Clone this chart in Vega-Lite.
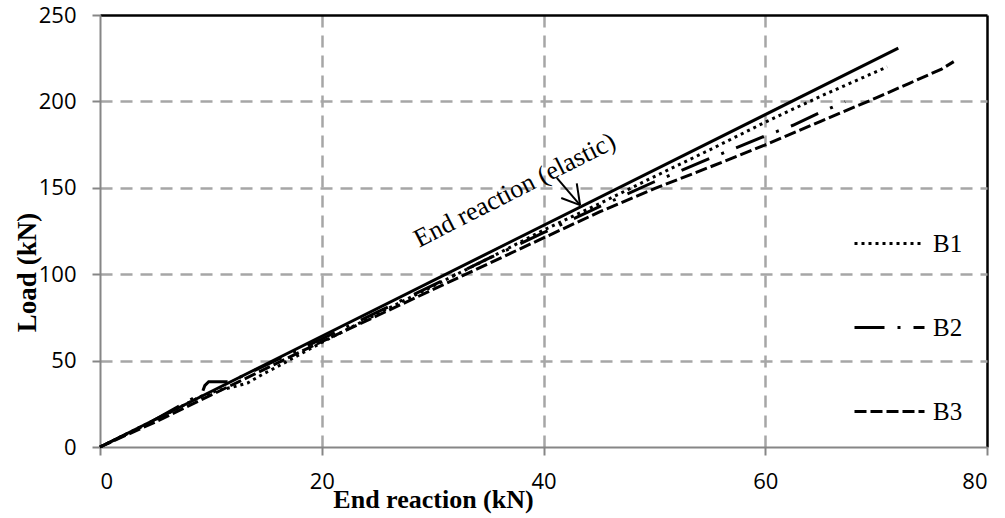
{
  "$schema": "https://vega.github.io/schema/vega-lite/v6.json",
  "width": 887,
  "height": 432,
  "autosize": {"type": "none"},
  "padding": {"left": 100, "top": 15, "right": 18, "bottom": 71},
  "background": "white",
  "config": {
    "view": {"stroke": null},
    "axis": {
      "labelFont": "Open Sans",
      "labelFontSize": 22,
      "labelColor": "black",
      "titleFont": "Liberation Serif",
      "titleFontWeight": "bold",
      "titleColor": "black",
      "domainColor": "#868686",
      "domainWidth": 2,
      "tickColor": "#868686",
      "tickWidth": 2,
      "tickSize": 8,
      "gridWidth": 2.5
    }
  },
  "datasets": {
    "elastic": [
      {"reaction": 0, "load": 0},
      {"reaction": 72, "load": 230.8}
    ],
    "tests": [
      {"series": "B1", "reaction": 0, "load": 0},
      {"series": "B1", "reaction": 3, "load": 9.5},
      {"series": "B1", "reaction": 6, "load": 19},
      {"series": "B1", "reaction": 9, "load": 29},
      {"series": "B1", "reaction": 10.5, "load": 32.5},
      {"series": "B1", "reaction": 12, "load": 34.7},
      {"series": "B1", "reaction": 13.3, "load": 37},
      {"series": "B1", "reaction": 14.7, "load": 42.2},
      {"series": "B1", "reaction": 16, "load": 46.5},
      {"series": "B1", "reaction": 18, "load": 53.5},
      {"series": "B1", "reaction": 20, "load": 60.5},
      {"series": "B1", "reaction": 25, "load": 77},
      {"series": "B1", "reaction": 30, "load": 93},
      {"series": "B1", "reaction": 35, "load": 109},
      {"series": "B1", "reaction": 40, "load": 125.5},
      {"series": "B1", "reaction": 45.1, "load": 141},
      {"series": "B1", "reaction": 50, "load": 156.5},
      {"series": "B1", "reaction": 55, "load": 172},
      {"series": "B1", "reaction": 60, "load": 188},
      {"series": "B1", "reaction": 65, "load": 203},
      {"series": "B1", "reaction": 71, "load": 220},
      {"series": "B2", "reaction": 0, "load": 0},
      {"series": "B2", "reaction": 4, "load": 12.5},
      {"series": "B2", "reaction": 9.2, "load": 31},
      {"series": "B2", "reaction": 9.45, "load": 35.5},
      {"series": "B2", "reaction": 9.8, "load": 37.8},
      {"series": "B2", "reaction": 11.7, "load": 37.8},
      {"series": "B2", "reaction": 13, "load": 41.5},
      {"series": "B2", "reaction": 16, "load": 50.5},
      {"series": "B2", "reaction": 20, "load": 62.5},
      {"series": "B2", "reaction": 25, "load": 78},
      {"series": "B2", "reaction": 30, "load": 93.5},
      {"series": "B2", "reaction": 35, "load": 109},
      {"series": "B2", "reaction": 40, "load": 124},
      {"series": "B2", "reaction": 45, "load": 139},
      {"series": "B2", "reaction": 50, "load": 153.5},
      {"series": "B2", "reaction": 55, "load": 167},
      {"series": "B2", "reaction": 60, "load": 180},
      {"series": "B2", "reaction": 62.5, "load": 186.2},
      {"series": "B2", "reaction": 65.1, "load": 194},
      {"series": "B2", "reaction": 67.2, "load": 199.8},
      {"series": "B3", "reaction": 0, "load": 0},
      {"series": "B3", "reaction": 5, "load": 14.5},
      {"series": "B3", "reaction": 10, "load": 30},
      {"series": "B3", "reaction": 15, "load": 45.5},
      {"series": "B3", "reaction": 20, "load": 61},
      {"series": "B3", "reaction": 25, "load": 76},
      {"series": "B3", "reaction": 30, "load": 91},
      {"series": "B3", "reaction": 35, "load": 106},
      {"series": "B3", "reaction": 40, "load": 121},
      {"series": "B3", "reaction": 45.1, "load": 136.2},
      {"series": "B3", "reaction": 50, "load": 149.5},
      {"series": "B3", "reaction": 55, "load": 162},
      {"series": "B3", "reaction": 60, "load": 174.8},
      {"series": "B3", "reaction": 65, "load": 188.5},
      {"series": "B3", "reaction": 70, "load": 202},
      {"series": "B3", "reaction": 73, "load": 210.5},
      {"series": "B3", "reaction": 75.9, "load": 218.7},
      {"series": "B3", "reaction": 77, "load": 223}
    ],
    "arrow": [
      {"seg": "shaft", "ord": 0, "reaction": 41.2, "load": 155.7},
      {"seg": "shaft", "ord": 1, "reaction": 43.3, "load": 140},
      {"seg": "left", "ord": 0, "reaction": 41.6, "load": 144.1},
      {"seg": "left", "ord": 1, "reaction": 43.3, "load": 140},
      {"seg": "right", "ord": 0, "reaction": 43.0, "load": 152.6},
      {"seg": "right", "ord": 1, "reaction": 43.3, "load": 140}
    ],
    "note": [
      {"reaction": 37.4, "load": 148.7, "label": "End reaction (elastic)"}
    ]
  },
  "encoding": {
    "x": {
      "field": "reaction",
      "type": "quantitative",
      "scale": {"domain": [0, 80], "nice": false},
      "axis": {
        "values": [0, 20, 40, 60, 80],
        "title": "End reaction (kN)",
        "titleFontSize": 26,
        "titleX": 333,
        "titleY": 60,
        "titleBaseline": "alphabetic",
        "titleAlign": "center",
        "labelPadding": 16,
        "gridColor": {"condition": {"test": "datum.value === 80", "value": "black"}, "value": "#A6A6A6"},
        "gridDash": {"condition": {"test": "datum.value === 80", "value": []}, "value": [12, 8]},
        "gridOpacity": {"condition": {"test": "datum.value === 0", "value": 0}, "value": 1}
      }
    },
    "y": {
      "field": "load",
      "type": "quantitative",
      "scale": {"domain": [0, 250], "nice": false},
      "axis": {
        "values": [0, 50, 100, 150, 200, 250],
        "title": "Load (kN)",
        "titleFontSize": 27,
        "titleX": -65,
        "titleY": 257,
        "titleAngle": -90,
        "titleBaseline": "alphabetic",
        "titleAlign": "center",
        "labelPadding": 16,
        "gridColor": {"condition": {"test": "datum.value === 250", "value": "black"}, "value": "#A6A6A6"},
        "gridDash": {"condition": {"test": "datum.value === 250", "value": []}, "value": [12, 8]},
        "gridOpacity": {"condition": {"test": "datum.value === 0", "value": 0}, "value": 1}
      }
    }
  },
  "layer": [
    {
      "data": {"name": "elastic"},
      "mark": {"type": "line", "color": "black", "strokeWidth": 3},
      "encoding": {}
    },
    {
      "data": {"name": "tests"},
      "mark": {"type": "line", "color": "black", "strokeWidth": 3, "strokeCap": "butt"},
      "encoding": {
        "strokeDash": {
          "field": "series",
          "type": "nominal",
          "scale": {"domain": ["B1", "B2", "B3"], "range": [[3, 4], [30, 13, 3, 13], [12, 4]]},
          "legend": {
            "orient": "none",
            "legendX": 753,
            "legendY": 192,
            "title": null,
            "symbolType": "stroke",
            "symbolSize": 4900,
            "symbolStrokeWidth": 3,
            "symbolStrokeColor": "black",
            "labelFont": "Liberation Serif",
            "labelFontSize": 25,
            "labelColor": "black",
            "rowPadding": 34,
            "labelOffset": 7,
            "padding": 0
          }
        }
      }
    },
    {
      "data": {"name": "arrow"},
      "mark": {"type": "line", "color": "black", "strokeWidth": 2},
      "encoding": {
        "detail": {"field": "seg", "type": "nominal"},
        "order": {"field": "ord", "type": "quantitative"}
      }
    },
    {
      "data": {"name": "note"},
      "mark": {"type": "text", "font": "Liberation Serif", "fontSize": 26, "angle": -27, "align": "center", "baseline": "middle", "color": "black"},
      "encoding": {"text": {"field": "label"}}
    }
  ]
}
